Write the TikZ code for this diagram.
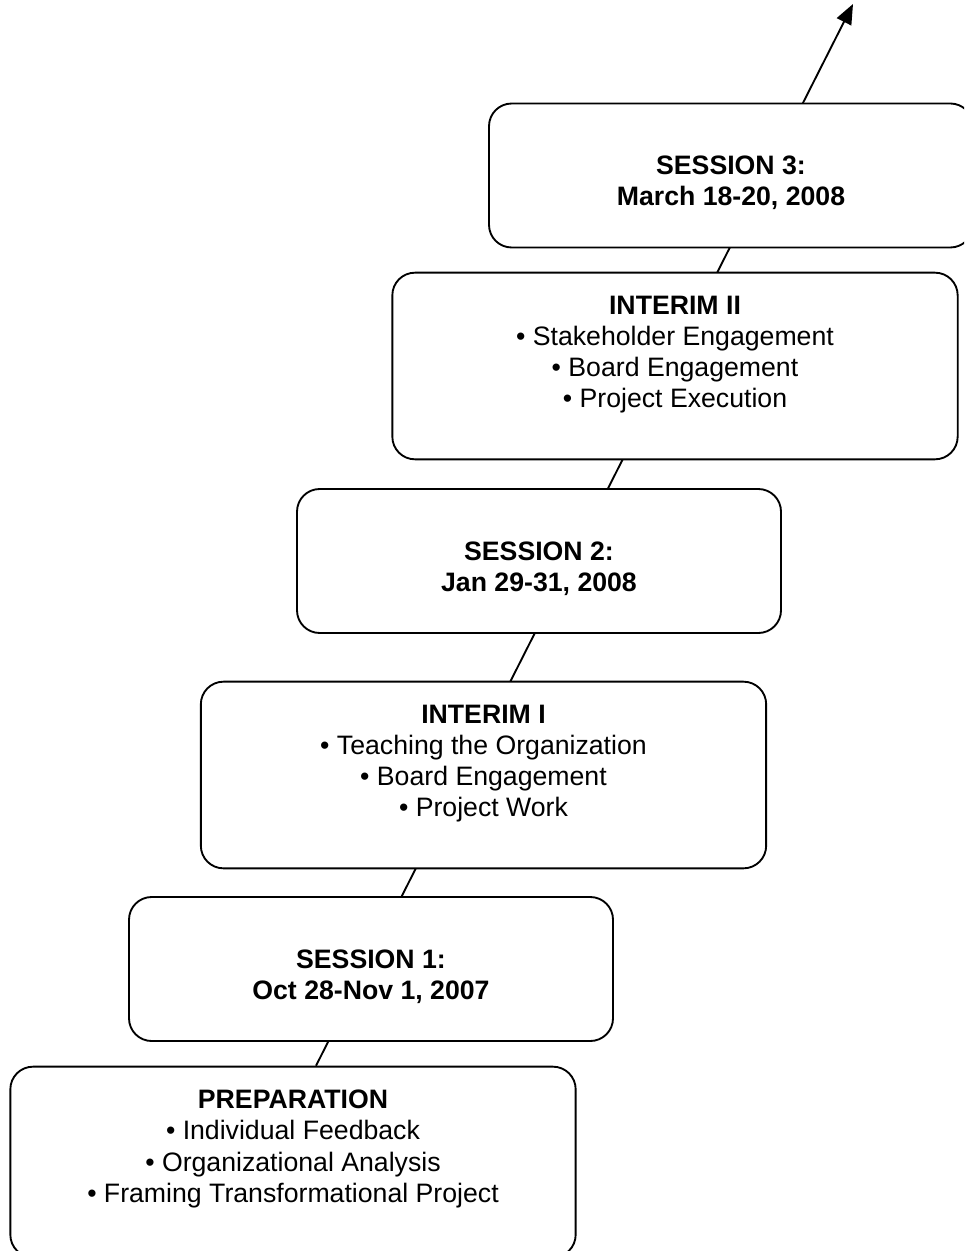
\documentclass[tikz,border=0pt]{standalone}
\usepackage{fontspec}
\setmainfont{Liberation Sans}
\usetikzlibrary{positioning, arrows.meta, backgrounds, calc}

\begin{document}
\begin{tikzpicture}[x=0.75pt, y=-0.75pt,
    stage/.style={draw, line width=1.4pt, rounded corners=17pt, fill=white, inner sep=0pt},
    session/.style={stage, minimum width=363pt, minimum height=108pt},
    interim/.style={stage, minimum width=424pt, minimum height=140pt},
    stagetext/.style={align=center, inner sep=0pt, font=\fontsize{20pt}{23.4pt}\selectfont}]
    \useasboundingbox (0,0) rectangle (964,1251);
    \clip (0,0) rectangle (964,1251);
    % boxes, from the bottom up
    \node[interim, minimum height=143pt] (prep) at (293,1162) {};
    \node[session] (s1) at (371,969) {};
    \node[interim] (int1) at (483.5,775) {};
    \node[session] (s2) at (539,561) {};
    \node[interim] (int2) at (675,366) {};
    \node[session] (s3) at (731,175.5) {};
    % texts
    \node[stagetext, below=18pt of prep.north] (preptext)
        {\textbf{PREPARATION}\\• Individual Feedback\\• Organizational Analysis\\• Framing Transformational Project};
    \node[stagetext, below=40pt of s1.north] (s1text) {\textbf{SESSION 1:}\\\textbf{Oct 28-Nov 1, 2007}};
    \node[stagetext, below=18pt of int1.north] (int1text)
        {\textbf{INTERIM I}\\• Teaching the Organization\\• Board Engagement\\• Project Work};
    \node[stagetext, below=40pt of s2.north] (s2text) {\textbf{SESSION 2:}\\\textbf{Jan 29-31, 2008}};
    \node[stagetext, below=18pt of int2.north] (int2text)
        {\textbf{INTERIM II}\\• Stakeholder Engagement\\• Board Engagement\\• Project Execution};
    \node[stagetext, below=40pt of s3.north] (s3text) {\textbf{SESSION 3:}\\\textbf{March 18-20, 2008}};
    % the line behind the boxes
    \coordinate (tip) at (853,4);
    \begin{scope}[on background layer]
        \draw[line width=1.4pt, -{Triangle[length=15pt, width=12pt]}] ($(prep.north)+(23,0)$) -- (tip);
    \end{scope}
\end{tikzpicture}
\end{document}
